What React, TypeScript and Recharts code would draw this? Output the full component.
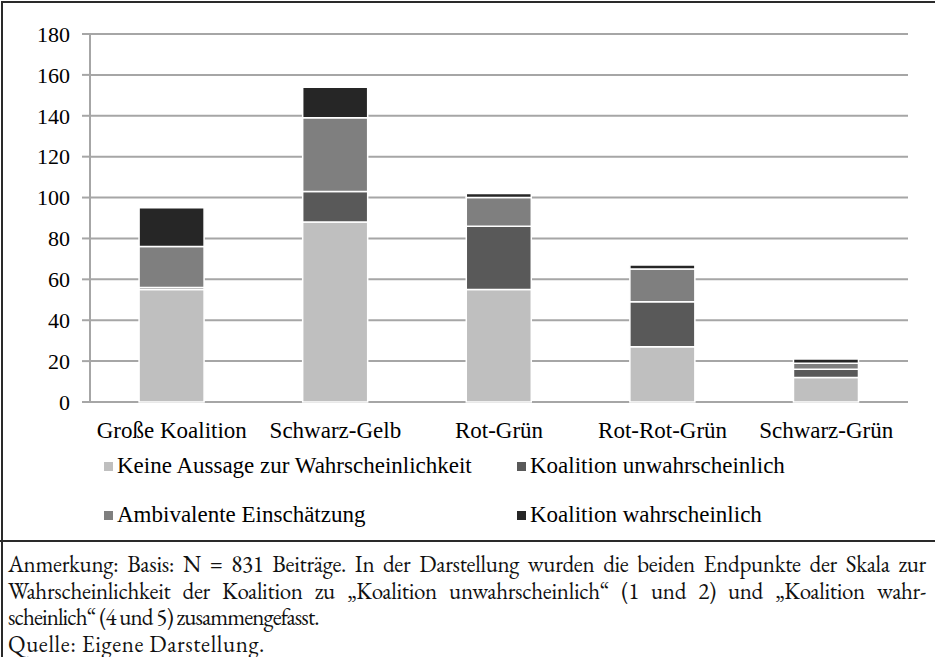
import React from "react";
import { BarChart, Bar, XAxis, YAxis, CartesianGrid } from "recharts";

const categories = ["Große Koalition", "Schwarz-Gelb", "Rot-Grün", "Rot-Rot-Grün", "Schwarz-Grün"];
const keineAussage = [55, 88, 55, 27, 12];
const unwahrscheinlich = [1, 15, 31, 22, 4];
const ambivalent = [20, 36, 14, 16, 3];
const wahrscheinlich = [19, 15, 2, 2, 2];
const yTicks = [0, 20, 40, 60, 80, 100, 120, 140, 160, 180];
const edgeTicks = [0, 1, 2, 3, 4, 5];

const seriesNames = [
  "Keine Aussage zur Wahrscheinlichkeit",
  "Koalition unwahrscheinlich",
  "Ambivalente Einschätzung",
  "Koalition wahrscheinlich",
];
const seriesColors = ["#bfbfbf", "#595959", "#7f7f7f", "#262626"];

const noteLines = [
  "Anmerkung: Basis: N = 831 Beiträge. In der Darstellung wurden die beiden Endpunkte der Skala zur",
  "Wahrscheinlichkeit der Koalition zu „Koalition unwahrscheinlich“ (1 und 2) und „Koalition wahr-",
  "scheinlich“ (4 und 5) zusammengefasst.",
  "Quelle: Eigene Darstellung.",
];

const data = categories.map((name, i) => ({
  name,
  keine: keineAussage[i],
  unw: unwahrscheinlich[i],
  amb: ambivalent[i],
  wahr: wahrscheinlich[i],
}));
const keys = ["keine", "unw", "amb", "wahr"];

const serifFaces = ["Liberation Serif", "Times New Roman", "FreeSerif"];
const FONT = serifFaces.map((f) => `"${f}"`).join(", ");
const noteFaces = ["EB Garamond", "Liberation Serif"];
const NOTE_FONT = noteFaces.map((f) => `"${f}"`).join(", ");
const AX = "#a6a6a6";

export default function App() {
  const legendPos = [
    { x: 104, y: 466 },
    { x: 517, y: 466 },
    { x: 104, y: 515 },
    { x: 517, y: 515 },
  ];
  return (
    <div style={{ position: "absolute", left: 0, top: 0, width: 935, height: 657, overflow: "hidden", background: "#fff", fontFamily: FONT }}>
      <div style={{ position: "absolute", left: 1, top: 1, width: 960, height: 700, borderTop: "2px solid #2a2a2a", borderLeft: "2px solid #2a2a2a" }} />
      <div style={{ position: "absolute", left: 0, top: 0 }}>
        <BarChart
          width={935}
          height={442}
          data={data}
          margin={{ top: 34, right: 27, left: 30, bottom: 0 }}
          barCategoryGap="30%"
          style={{ fontFamily: FONT }}
        >
          <CartesianGrid xAxisId="cat" vertical={false} stroke={AX} strokeWidth={2} />
          <XAxis
            xAxisId="edge"
            type="number"
            domain={[0, 5]}
            ticks={edgeTicks}
            tick={false}
            tickSize={7}
            height={0}
            axisLine={{ stroke: AX, strokeWidth: 2 }}
            tickLine={{ stroke: AX, strokeWidth: 2 }}
          />
          <XAxis
            xAxisId="cat"
            dataKey="name"
            height={40}
            axisLine={false}
            tickLine={false}
            tickSize={6}
            tickMargin={14}
            interval={0}
            tick={{ fill: "#000", fontSize: 23, fontFamily: FONT }}
          />
          <YAxis
            domain={[0, 180]}
            ticks={yTicks}
            width={60}
            interval={0}
            tickSize={8}
            tickMargin={12}
            axisLine={{ stroke: AX, strokeWidth: 2 }}
            tickLine={{ stroke: AX, strokeWidth: 2 }}
            tick={{ fill: "#000", fontSize: 22, fontFamily: FONT }}
          />
          {keys.map((k, i) => (
            <Bar
              key={k}
              xAxisId="cat"
              dataKey={k}
              stackId="s"
              fill={seriesColors[i]}
              stroke="#ffffff"
              strokeWidth={1.5}
              isAnimationActive={false}
            />
          ))}
        </BarChart>
      </div>
      {seriesNames.map((n, i) => (
        <div
          key={n}
          style={{
            position: "absolute",
            left: legendPos[i].x,
            top: legendPos[i].y - 15,
            height: 30,
            display: "flex",
            alignItems: "center",
            fontFamily: FONT,
            fontSize: 23,
            color: "#000",
            whiteSpace: "nowrap",
          }}
        >
          <span style={{ display: "inline-block", width: 9, height: 9, background: seriesColors[i], marginRight: 4 }} />
          <span>{n}</span>
        </div>
      ))}
      <div style={{ position: "absolute", left: 0, top: 540, width: 935, height: 2, background: "#2a2a2a" }} />
      <div style={{ position: "absolute", left: 8, top: 551, width: 918, fontFamily: NOTE_FONT, fontSize: 23, lineHeight: "26.5px", color: "#111" }}>
        {noteLines.map((l, i) => (
          <div
            key={i}
            style={{
              textAlign: i < 2 ? "justify" : "left",
              textAlignLast: i < 2 ? "justify" : "left",
              whiteSpace: "nowrap",
              letterSpacing: i === 2 ? "-0.9px" : i < 2 ? "-0.3px" : "0.6px",
              height: 26.5,
            }}
          >
            {l}
          </div>
        ))}
      </div>
    </div>
  );
}
